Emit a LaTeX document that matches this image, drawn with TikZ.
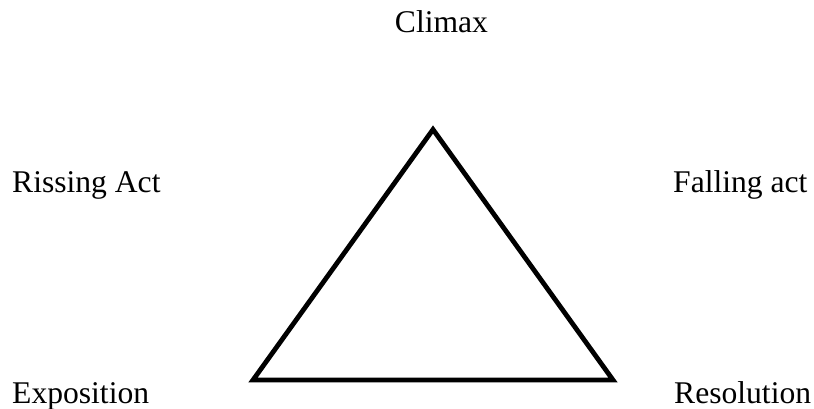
\documentclass[tikz,border=0pt]{standalone}
\usepackage{fontspec}
\setmainfont{Liberation Serif}
\tikzset{
  lbl/.style={inner sep=0pt, anchor=base west, font=\fontsize{31.6}{38}\selectfont},
  tri/.style={line width=4.8pt, line join=miter}
}
\begin{document}
\begin{tikzpicture}[x=1pt, y=-1pt]
\useasboundingbox (0,0) rectangle (814,409);
\coordinate (apex) at (433,129.5);
\coordinate (bl) at (253,380);
\coordinate (br) at (613,380);
\draw[tri] (apex) -- (br) -- (bl) -- cycle;
\node[lbl, anchor=base] (climax) at (441.5,33) {Climax};
\node[lbl] (rising) at (12,193) {Rissing Act};
\node[lbl] (falling) at (673,193) {Falling act};
\node[lbl] (expo) at (12,403) {Exposition};
\node[lbl] (reso) at (674,403) {Resolution};
\end{tikzpicture}
\end{document}
